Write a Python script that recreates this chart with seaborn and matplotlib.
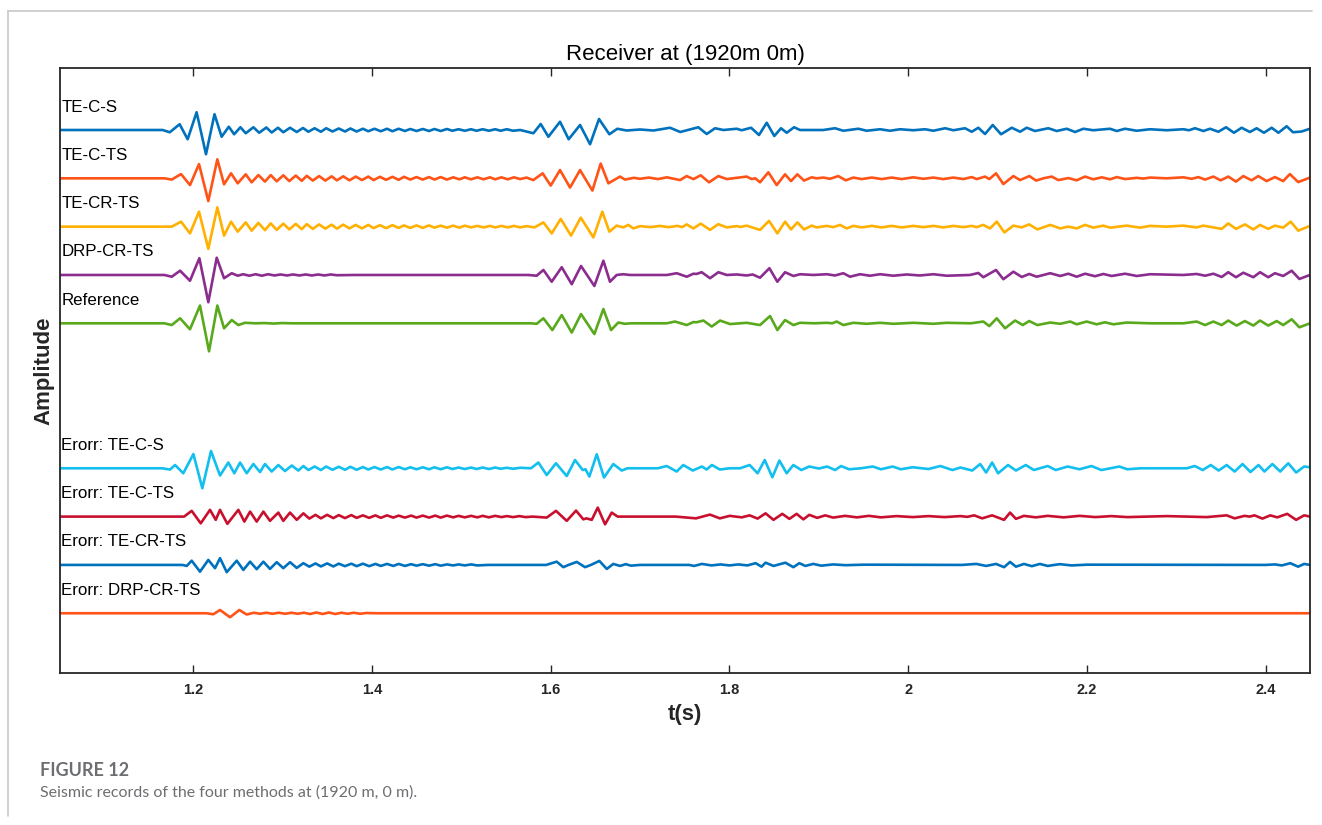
import matplotlib
matplotlib.use("Agg")
import matplotlib.pyplot as plt
from matplotlib.lines import Line2D
import pandas as pd
import seaborn as sns

# Extrema of each seismic record: (time in s, normalised amplitude)
te_c_s = [
    (1.051, 0.00), (1.166, 0.00), (1.174, -0.09), (1.185, 0.23), (1.194, -0.37),
    (1.204, 0.71), (1.2145, -0.97), (1.224, 0.63), (1.232, -0.27), (1.240, 0.13),
    (1.246, -0.17), (1.253, 0.11), (1.259, -0.13), (1.2675, 0.11), (1.274, -0.11),
    (1.282, 0.10), (1.288, -0.10), (1.295, 0.09), (1.301, -0.09), (1.3085, 0.09),
    (1.316, -0.08), (1.323, 0.08), (1.329, -0.07), (1.336, 0.07), (1.343, -0.07),
    (1.349, 0.07), (1.356, -0.06), (1.363, 0.06), (1.370, -0.06), (1.376, 0.06),
    (1.383, -0.06), (1.390, 0.05), (1.396, -0.05), (1.403, 0.05), (1.410, -0.05),
    (1.417, 0.05), (1.423, -0.05), (1.430, 0.05), (1.437, -0.04), (1.443, 0.04),
    (1.450, -0.04), (1.457, 0.04), (1.464, -0.04), (1.470, 0.04), (1.477, -0.04),
    (1.484, 0.04), (1.490, -0.03), (1.497, 0.03), (1.504, -0.03), (1.511, 0.03),
    (1.517, -0.03), (1.524, 0.03), (1.531, -0.03), (1.538, 0.03), (1.544, -0.03),
    (1.551, 0.03), (1.558, -0.03), (1.566, 0.00), (1.5807, -0.13), (1.5889, 0.24),
    (1.5975, -0.27), (1.6105, 0.33), (1.6202, -0.37), (1.6329, 0.20), (1.6441, -0.57),
    (1.6541, 0.44), (1.6657, -0.17), (1.6746, 0.05), (1.685, -0.02), (1.700, 0.02),
    (1.715, -0.02), (1.7336, 0.09), (1.745, -0.08), (1.7652, 0.11), (1.7746, -0.16),
    (1.7839, 0.07), (1.7932, 0.00), (1.8081, 0.05), (1.8137, -0.01), (1.8242, 0.09),
    (1.8331, -0.20), (1.8417, 0.29), (1.8502, -0.24), (1.8577, 0.07), (1.8641, -0.11),
    (1.8723, 0.11), (1.879, 0.00), (1.905, 0.00), (1.9181, 0.07), (1.9274, -0.03),
    (1.9442, 0.05), (1.9536, -0.03), (1.9685, 0.03), (1.9796, -0.03), (1.9908, 0.03),
    (2.0057, -0.01), (2.0188, 0.03), (2.0281, -0.03), (2.0412, 0.07), (2.0505, -0.01),
    (2.0635, 0.07), (2.071, -0.07), (2.0784, 0.09), (2.0859, -0.16), (2.0945, 0.20),
    (2.1038, -0.17), (2.1158, 0.09), (2.1251, -0.07), (2.1325, 0.09), (2.1418, -0.04),
    (2.1567, 0.07), (2.1661, -0.04), (2.1773, 0.05), (2.1866, -0.08), (2.1959, 0.05),
    (2.207, -0.01), (2.2257, 0.05), (2.2332, -0.04), (2.2425, 0.05), (2.2556, -0.03),
    (2.2705, 0.03), (2.2891, -0.01), (2.3077, 0.03), (2.314, -0.01), (2.3208, 0.07),
    (2.3301, -0.04), (2.3376, 0.05), (2.3469, -0.07), (2.3555, 0.11), (2.3643, -0.11),
    (2.3729, 0.09), (2.3822, -0.08), (2.3897, 0.07), (2.3979, -0.11), (2.4065, 0.09),
    (2.4141, -0.11), (2.4233, 0.15), (2.4304, -0.09), (2.440, -0.06), (2.4494, 0.05),
]

te_c_ts = [
    (1.051, 0.00), (1.168, 0.00), (1.1762, -0.05), (1.1866, 0.17), (1.1966, -0.27),
    (1.2067, 0.57), (1.2171, -0.91), (1.2272, 0.76), (1.2347, -0.24), (1.2425, 0.20),
    (1.250, -0.20), (1.2589, 0.16), (1.2656, -0.16), (1.2731, 0.13), (1.2805, -0.13),
    (1.2869, 0.13), (1.2936, -0.12), (1.301, 0.12), (1.3077, -0.11), (1.3149, 0.11),
    (1.3216, -0.10), (1.3272, 0.10), (1.334, -0.09), (1.341, 0.09), (1.348, -0.09),
    (1.355, 0.08), (1.361, -0.08), (1.368, 0.08), (1.375, -0.08), (1.382, 0.07),
    (1.389, -0.07), (1.396, 0.07), (1.402, -0.07), (1.409, 0.06), (1.416, -0.06),
    (1.423, 0.06), (1.430, -0.06), (1.436, 0.06), (1.443, -0.05), (1.450, 0.05),
    (1.457, -0.05), (1.464, 0.05), (1.470, -0.05), (1.477, 0.05), (1.484, -0.05),
    (1.491, 0.04), (1.498, -0.04), (1.504, 0.04), (1.511, -0.04), (1.518, 0.04),
    (1.525, -0.04), (1.532, 0.04), (1.538, -0.04), (1.545, 0.04), (1.552, -0.04),
    (1.559, 0.04), (1.566, -0.03), (1.573, 0.03), (1.5806, -0.07), (1.5911, 0.20),
    (1.6001, -0.29), (1.6105, 0.33), (1.6217, -0.37), (1.6329, 0.33), (1.6467, -0.49),
    (1.656, 0.59), (1.6646, -0.20), (1.6776, 0.07), (1.6832, -0.05), (1.693, 0.02),
    (1.700, -0.02), (1.710, 0.03), (1.720, -0.03), (1.730, 0.04), (1.7448, -0.07),
    (1.7522, 0.09), (1.7597, -0.03), (1.7679, 0.12), (1.7772, -0.16), (1.7876, 0.09),
    (1.797, -0.03), (1.8193, 0.07), (1.8249, -0.03), (1.829, 0.00), (1.8342, -0.16),
    (1.8435, 0.24), (1.8529, -0.27), (1.8622, 0.16), (1.8689, -0.11), (1.876, 0.16),
    (1.8834, -0.09), (1.892, 0.04), (1.8976, 0.00), (1.9051, 0.03), (1.9125, -0.02),
    (1.9218, 0.09), (1.9301, -0.08), (1.9386, 0.03), (1.948, -0.03), (1.9592, 0.03),
    (1.9703, -0.03), (1.9815, 0.03), (1.9927, -0.03), (2.0057, 0.04), (2.0169, -0.02),
    (2.0281, 0.03), (2.0393, -0.03), (2.0505, 0.03), (2.0617, -0.03), (2.071, 0.05),
    (2.0766, -0.03), (2.0859, 0.07), (2.0907, -0.03), (2.0982, 0.20), (2.1064, -0.23),
    (2.1176, 0.09), (2.1251, -0.07), (2.1355, 0.09), (2.143, -0.09), (2.1512, 0.00),
    (2.1605, 0.07), (2.1679, -0.07), (2.1791, 0.01), (2.1884, -0.08), (2.1978, 0.07),
    (2.207, -0.04), (2.2165, 0.04), (2.2257, -0.04), (2.2332, 0.05), (2.2425, -0.03),
    (2.2556, 0.02), (2.263, -0.01), (2.2705, 0.03), (2.2891, 0.00), (2.3077, 0.04),
    (2.3171, -0.02), (2.3245, 0.05), (2.332, -0.05), (2.3413, 0.07), (2.3495, -0.08),
    (2.358, 0.07), (2.3666, -0.13), (2.3748, 0.09), (2.3841, -0.08), (2.3915, 0.09),
    (2.4009, -0.11), (2.4102, 0.05), (2.4194, -0.11), (2.4269, 0.17), (2.4362, -0.15),
    (2.4494, 0.03),
]

te_cr_ts = [
    (1.051, 0.00), (1.168, 0.00), (1.1762, 0.00), (1.1866, 0.20), (1.1966, -0.27),
    (1.2067, 0.60), (1.2171, -0.89), (1.2272, 0.77), (1.2347, -0.36), (1.2425, 0.20),
    (1.250, -0.20), (1.2589, 0.17), (1.2656, -0.16), (1.2731, 0.15), (1.2805, -0.14),
    (1.2869, 0.13), (1.2936, -0.13), (1.301, 0.12), (1.3077, -0.11), (1.3149, 0.11),
    (1.3216, -0.10), (1.3272, 0.10), (1.334, -0.09), (1.341, 0.09), (1.348, -0.08),
    (1.355, 0.08), (1.361, -0.08), (1.368, 0.08), (1.375, -0.07), (1.382, 0.07),
    (1.389, -0.07), (1.396, 0.07), (1.402, -0.06), (1.409, 0.06), (1.416, -0.06),
    (1.423, 0.06), (1.430, -0.05), (1.436, 0.05), (1.443, -0.05), (1.450, 0.05),
    (1.457, -0.05), (1.464, 0.05), (1.470, -0.04), (1.477, 0.04), (1.484, -0.04),
    (1.491, 0.04), (1.498, -0.04), (1.504, 0.04), (1.511, -0.03), (1.518, 0.03),
    (1.525, -0.03), (1.532, 0.03), (1.538, -0.03), (1.545, 0.03), (1.552, -0.03),
    (1.559, 0.03), (1.566, -0.03), (1.573, 0.02), (1.582, -0.03), (1.5919, 0.17),
    (1.6012, -0.27), (1.6113, 0.31), (1.6228, -0.36), (1.6337, 0.36), (1.6478, -0.43),
    (1.6578, 0.60), (1.6657, -0.20), (1.6739, 0.04), (1.6813, -0.03), (1.6869, 0.07),
    (1.6925, -0.07), (1.700, 0.02), (1.712, -0.02), (1.722, 0.03), (1.732, -0.02),
    (1.742, 0.03), (1.747, -0.02), (1.7522, 0.09), (1.7597, -0.07), (1.7679, 0.12),
    (1.7783, -0.13), (1.7876, 0.10), (1.797, -0.03), (1.8081, 0.02), (1.8125, -0.01),
    (1.8193, 0.04), (1.8342, -0.13), (1.8443, 0.23), (1.8536, -0.27), (1.8622, 0.20),
    (1.8689, -0.11), (1.876, 0.17), (1.8834, -0.11), (1.892, 0.04), (1.8976, -0.03),
    (1.9089, 0.03), (1.9162, -0.02), (1.9237, 0.07), (1.9312, -0.07), (1.9386, 0.03),
    (1.948, -0.03), (1.9592, 0.03), (1.9703, -0.03), (1.9815, 0.03), (1.9927, -0.03),
    (2.0057, 0.03), (2.0169, -0.02), (2.0281, 0.03), (2.0393, -0.03), (2.0505, 0.03),
    (2.0617, -0.02), (2.071, 0.03), (2.0766, -0.02), (2.084, 0.07), (2.0915, -0.07),
    (2.099, 0.20), (2.1075, -0.23), (2.1176, 0.04), (2.127, -0.03), (2.1353, 0.09),
    (2.1444, -0.11), (2.1588, 0.07), (2.170, -0.07), (2.1791, 0.00), (2.1884, -0.07),
    (2.1978, 0.07), (2.207, -0.04), (2.2182, 0.04), (2.2257, -0.04), (2.2443, 0.04),
    (2.2593, -0.04), (2.2705, 0.03), (2.2891, 0.00), (2.3077, 0.04), (2.3226, -0.03),
    (2.3301, 0.04), (2.3506, -0.09), (2.358, 0.13), (2.3666, -0.09), (2.3766, 0.09),
    (2.386, -0.11), (2.3935, 0.07), (2.4027, -0.09), (2.4102, 0.04), (2.4194, -0.04),
    (2.4278, 0.20), (2.4362, -0.16), (2.4494, 0.03),
]

drp_cr_ts = [
    (1.051, 0.00), (1.168, 0.00), (1.1762, -0.07), (1.1855, 0.17), (1.1966, -0.23),
    (1.2071, 0.67), (1.2171, -1.09), (1.2265, 0.69), (1.2347, -0.13), (1.2433, 0.07),
    (1.250, -0.03), (1.256, 0.03), (1.263, -0.03), (1.270, 0.03), (1.277, -0.03),
    (1.284, 0.03), (1.291, -0.02), (1.298, 0.02), (1.305, -0.02), (1.312, 0.02),
    (1.319, -0.02), (1.326, 0.02), (1.333, -0.02), (1.340, 0.02), (1.347, -0.02),
    (1.354, 0.02), (1.361, -0.01), (1.380, 0.00), (1.575, 0.00), (1.5844, -0.03),
    (1.5919, 0.20), (1.6012, -0.27), (1.6124, 0.31), (1.6236, -0.37), (1.634, 0.36),
    (1.6489, -0.44), (1.659, 0.57), (1.6664, -0.27), (1.6739, 0.00), (1.6813, 0.03),
    (1.6887, 0.00), (1.730, 0.00), (1.7411, 0.07), (1.7522, -0.07), (1.7597, 0.05),
    (1.763, 0.04), (1.769, 0.11), (1.7783, -0.13), (1.7876, 0.11), (1.797, 0.00),
    (1.8081, 0.02), (1.8193, -0.02), (1.826, 0.02), (1.8342, -0.11), (1.8447, 0.27),
    (1.8536, -0.27), (1.8622, 0.11), (1.8715, -0.04), (1.879, 0.03), (1.8939, 0.00),
    (1.9089, 0.03), (1.9181, -0.02), (1.9274, 0.07), (1.9349, -0.07), (1.9461, 0.03),
    (1.9573, -0.03), (1.9685, 0.03), (1.9833, -0.03), (1.9982, 0.02), (2.0131, -0.02),
    (2.0281, 0.03), (2.043, -0.03), (2.0691, 0.00), (2.0784, 0.08), (2.084, -0.09),
    (2.0982, 0.20), (2.1064, -0.17), (2.1176, 0.13), (2.127, -0.08), (2.1353, 0.04),
    (2.1437, -0.07), (2.1588, 0.07), (2.170, -0.04), (2.1791, 0.05), (2.1884, -0.07),
    (2.1978, 0.05), (2.2089, -0.05), (2.2182, 0.04), (2.2276, -0.04), (2.2425, 0.05),
    (2.2556, -0.04), (2.2705, 0.03), (2.3077, 0.00), (2.3226, 0.04), (2.332, -0.03),
    (2.3413, 0.05), (2.3506, -0.08), (2.358, 0.11), (2.3666, -0.09), (2.3748, 0.09),
    (2.386, -0.09), (2.3935, 0.11), (2.4027, -0.09), (2.4102, 0.07), (2.4194, -0.04),
    (2.4289, 0.17), (2.4375, -0.16), (2.4494, 0.00),
]

reference = [
    (1.051, 0.00), (1.168, 0.00), (1.1762, -0.07), (1.1855, 0.20), (1.1966, -0.24),
    (1.2078, 0.71), (1.2179, -1.12), (1.2272, 0.71), (1.2347, -0.20), (1.2433, 0.13),
    (1.2507, -0.07), (1.258, 0.02), (1.270, 0.00), (1.280, 0.01), (1.290, -0.01),
    (1.300, 0.01), (1.310, 0.00), (1.578, 0.00), (1.5844, -0.02), (1.5919, 0.20),
    (1.6019, -0.27), (1.6124, 0.33), (1.6236, -0.37), (1.634, 0.37), (1.6489, -0.43),
    (1.659, 0.57), (1.6676, -0.27), (1.6757, 0.03), (1.6832, -0.02), (1.690, 0.00),
    (1.730, 0.00), (1.7391, 0.07), (1.7522, -0.07), (1.7597, 0.05), (1.763, 0.04),
    (1.7709, 0.11), (1.7802, -0.13), (1.7895, 0.11), (1.8007, -0.03), (1.8193, 0.02),
    (1.8342, -0.07), (1.8454, 0.29), (1.8536, -0.27), (1.8622, 0.13), (1.8715, -0.07),
    (1.879, 0.02), (1.895, 0.00), (1.9089, 0.02), (1.915, 0.00), (1.920, 0.07),
    (1.9274, -0.07), (1.9386, 0.02), (1.9536, -0.02), (1.9685, 0.02), (1.9833, -0.02),
    (2.0057, 0.02), (2.0281, -0.02), (2.043, 0.02), (2.070, 0.00), (2.084, 0.07),
    (2.0907, -0.11), (2.099, 0.20), (2.1083, -0.20), (2.1195, 0.11), (2.1281, -0.07),
    (2.1353, 0.09), (2.1444, -0.07), (2.1588, 0.03), (2.170, -0.02), (2.1812, 0.07),
    (2.1884, -0.04), (2.1996, 0.07), (2.2107, -0.04), (2.2201, 0.04), (2.2294, -0.04),
    (2.2443, 0.03), (2.2705, 0.00), (2.3077, 0.00), (2.3226, 0.07), (2.332, -0.07),
    (2.3413, 0.07), (2.3506, -0.07), (2.358, 0.11), (2.3673, -0.09), (2.3766, 0.09),
    (2.386, -0.09), (2.3935, 0.11), (2.4027, -0.09), (2.4121, 0.09), (2.4194, -0.07),
    (2.4289, 0.16), (2.4375, -0.16), (2.4494, 0.00),
]

err_te_c_s = [
    (1.051, 0.00), (1.165, 0.00), (1.1743, -0.05), (1.1799, 0.13), (1.1891, -0.20),
    (1.2004, 0.57), (1.2104, -0.80), (1.2201, 0.69), (1.2302, -0.29), (1.2395, 0.23),
    (1.2462, -0.20), (1.2526, 0.23), (1.260, -0.20), (1.2675, 0.17), (1.2749, -0.15),
    (1.2805, 0.17), (1.288, -0.13), (1.2954, 0.13), (1.3029, -0.11), (1.3104, 0.11),
    (1.3178, -0.09), (1.3234, 0.09), (1.329, -0.07), (1.336, 0.07), (1.343, -0.07),
    (1.349, 0.07), (1.356, -0.06), (1.363, 0.06), (1.370, -0.06), (1.376, 0.06),
    (1.383, -0.06), (1.390, 0.05), (1.396, -0.05), (1.403, 0.05), (1.410, -0.05),
    (1.417, 0.05), (1.423, -0.05), (1.430, 0.05), (1.437, -0.04), (1.443, 0.04),
    (1.450, -0.04), (1.457, 0.04), (1.464, -0.04), (1.470, 0.04), (1.477, -0.04),
    (1.484, 0.04), (1.490, -0.03), (1.497, 0.03), (1.504, -0.03), (1.511, 0.03),
    (1.517, -0.03), (1.524, 0.03), (1.531, -0.03), (1.538, 0.03), (1.544, -0.02),
    (1.551, 0.02), (1.558, -0.02), (1.566, 0.02), (1.578, 0.00), (1.5863, 0.23),
    (1.5956, -0.27), (1.606, 0.20), (1.618, -0.31), (1.6273, 0.33), (1.6359, -0.07),
    (1.639, -0.04), (1.6433, -0.33), (1.6516, 0.56), (1.6597, -0.37), (1.6701, 0.17),
    (1.6795, -0.09), (1.686, 0.00), (1.720, 0.00), (1.7298, 0.09), (1.741, -0.13),
    (1.7484, 0.13), (1.759, -0.09), (1.7692, 0.07), (1.7745, -0.05), (1.7804, 0.13),
    (1.7893, -0.05), (1.800, 0.00), (1.812, 0.00), (1.8226, 0.13), (1.8315, -0.20),
    (1.8395, 0.33), (1.848, -0.36), (1.8559, 0.31), (1.864, -0.20), (1.8715, 0.13),
    (1.8804, -0.07), (1.8893, 0.07), (1.900, -0.01), (1.9093, 0.07), (1.9182, -0.07),
    (1.9248, 0.09), (1.9338, -0.04), (1.947, 0.00), (1.9604, 0.07), (1.9694, -0.04),
    (1.9827, 0.07), (1.9915, -0.04), (2.0049, 0.04), (2.0227, -0.03), (2.036, 0.09),
    (2.0494, -0.07), (2.0583, 0.03), (2.0716, -0.09), (2.0805, 0.17), (2.0871, -0.17),
    (2.0938, 0.23), (2.1005, -0.20), (2.1116, 0.13), (2.1205, -0.09), (2.1315, 0.13),
    (2.1405, -0.07), (2.156, 0.09), (2.165, -0.07), (2.1783, 0.07), (2.1916, -0.04),
    (2.2049, 0.09), (2.2161, -0.07), (2.2361, 0.07), (2.245, -0.04), (2.260, 0.00),
    (2.3116, 0.00), (2.3205, 0.09), (2.3294, -0.07), (2.3384, 0.13), (2.3472, -0.09),
    (2.3562, 0.13), (2.3651, -0.13), (2.374, 0.17), (2.3828, -0.15), (2.3918, 0.13),
    (2.3984, -0.13), (2.4073, 0.17), (2.4161, -0.13), (2.4251, 0.20), (2.4339, -0.17),
    (2.4428, 0.07), (2.4494, 0.04),
]

err_te_c_ts = [
    (1.051, 0.00), (1.190, 0.00), (1.1985, 0.23), (1.2086, -0.27), (1.219, 0.27),
    (1.2254, -0.13), (1.2302, 0.27), (1.2384, -0.29), (1.2507, 0.27), (1.2574, -0.20),
    (1.2638, 0.20), (1.2712, -0.20), (1.2787, 0.20), (1.2861, -0.17), (1.2954, 0.16),
    (1.301, -0.17), (1.3085, 0.16), (1.316, -0.13), (1.3234, 0.13), (1.3301, -0.08),
    (1.337, 0.07), (1.343, -0.07), (1.350, 0.07), (1.357, -0.06), (1.363, 0.06),
    (1.370, -0.06), (1.377, 0.06), (1.383, -0.05), (1.390, 0.05), (1.397, -0.05),
    (1.404, 0.05), (1.410, -0.05), (1.417, 0.05), (1.424, -0.04), (1.430, 0.04),
    (1.437, -0.04), (1.444, 0.04), (1.450, -0.04), (1.457, 0.04), (1.464, -0.04),
    (1.471, 0.04), (1.477, -0.04), (1.484, 0.04), (1.491, -0.03), (1.497, 0.03),
    (1.504, -0.03), (1.511, 0.03), (1.518, -0.03), (1.524, 0.03), (1.531, -0.03),
    (1.538, 0.03), (1.545, -0.02), (1.551, 0.02), (1.558, -0.02), (1.565, 0.02),
    (1.572, -0.02), (1.580, 0.00), (1.5956, -0.04), (1.606, 0.23), (1.618, -0.17),
    (1.6284, 0.24), (1.6366, -0.11), (1.640, -0.07), (1.646, -0.13), (1.6527, 0.36),
    (1.6609, -0.31), (1.6683, 0.16), (1.675, 0.00), (1.740, 0.00), (1.7626, -0.07),
    (1.7782, 0.08), (1.7893, -0.07), (1.8003, 0.03), (1.8138, -0.03), (1.8226, 0.05),
    (1.8315, -0.08), (1.8404, 0.13), (1.8493, -0.13), (1.8591, 0.11), (1.8671, -0.09),
    (1.8751, 0.11), (1.8827, -0.11), (1.8893, 0.07), (1.8982, -0.05), (1.9071, 0.05),
    (1.916, -0.04), (1.9293, 0.03), (1.9426, -0.03), (1.956, 0.03), (1.9694, -0.03),
    (1.9871, 0.02), (2.0049, -0.02), (2.0227, 0.02), (2.0405, -0.02), (2.0583, 0.02),
    (2.066, -0.01), (2.0738, 0.05), (2.0827, -0.07), (2.0938, 0.05), (2.1072, -0.13),
    (2.1139, 0.16), (2.1205, -0.09), (2.1294, 0.03), (2.1427, -0.03), (2.156, 0.03),
    (2.1738, -0.03), (2.1916, 0.03), (2.2094, -0.02), (2.227, 0.02), (2.245, -0.02),
    (2.2895, 0.02), (2.3339, -0.02), (2.3562, 0.05), (2.3651, -0.07), (2.3761, 0.03),
    (2.3818, 0.00), (2.3873, 0.05), (2.3962, -0.08), (2.405, 0.05), (2.4128, -0.03),
    (2.4239, 0.11), (2.4339, -0.13), (2.4428, 0.05), (2.4494, 0.00),
]

err_te_cr_ts = [
    (1.051, 0.00), (1.188, 0.00), (1.193, -0.04), (1.1985, 0.17), (1.2078, -0.27),
    (1.2171, 0.20), (1.2246, -0.13), (1.2302, 0.27), (1.2377, -0.29), (1.2489, 0.17),
    (1.2563, -0.20), (1.2638, 0.13), (1.2712, -0.17), (1.2787, 0.13), (1.2861, -0.16),
    (1.2936, 0.11), (1.301, -0.13), (1.3085, 0.11), (1.316, -0.12), (1.3234, 0.07),
    (1.3301, -0.07), (1.337, 0.06), (1.343, -0.06), (1.350, 0.06), (1.357, -0.06),
    (1.363, 0.05), (1.370, -0.05), (1.377, 0.05), (1.383, -0.05), (1.390, 0.05),
    (1.397, -0.05), (1.404, 0.04), (1.410, -0.04), (1.417, 0.04), (1.424, -0.04),
    (1.430, 0.04), (1.437, -0.04), (1.444, 0.03), (1.450, -0.03), (1.457, 0.03),
    (1.464, -0.03), (1.471, 0.03), (1.477, -0.03), (1.484, 0.02), (1.491, -0.02),
    (1.497, 0.02), (1.504, -0.02), (1.511, 0.02), (1.518, -0.02), (1.530, 0.00),
    (1.595, 0.00), (1.6068, 0.13), (1.6142, -0.09), (1.620, 0.00), (1.6292, 0.12),
    (1.6385, -0.09), (1.645, 0.00), (1.6545, 0.16), (1.6628, -0.16), (1.6701, 0.04),
    (1.6776, -0.04), (1.684, 0.03), (1.690, -0.03), (1.700, 0.00), (1.755, 0.00),
    (1.7604, -0.04), (1.7692, 0.04), (1.780, -0.02), (1.790, 0.02), (1.800, -0.02),
    (1.810, 0.02), (1.820, -0.02), (1.8293, 0.07), (1.8359, -0.07), (1.8404, 0.09),
    (1.8493, -0.04), (1.8626, 0.09), (1.8715, -0.09), (1.8782, 0.07), (1.8849, -0.04),
    (1.8937, 0.04), (1.9027, -0.03), (1.916, 0.02), (1.930, -0.01), (1.950, 0.01),
    (2.060, 0.00), (2.0761, 0.04), (2.0871, -0.04), (2.0982, 0.04), (2.1072, -0.09),
    (2.1139, 0.12), (2.1205, -0.07), (2.1294, 0.04), (2.1383, -0.05), (2.1472, 0.04),
    (2.156, -0.04), (2.1694, 0.03), (2.1828, -0.02), (2.200, 0.01), (2.400, 0.00),
    (2.410, 0.02), (2.418, -0.02), (2.4273, 0.07), (2.4361, -0.07), (2.4428, 0.04),
    (2.4494, 0.00),
]

err_drp_cr_ts = [
    (1.051, 0.00), (1.215, 0.00), (1.2227, -0.04), (1.2302, 0.13), (1.2414, -0.16),
    (1.2518, 0.13), (1.260, -0.05), (1.268, 0.02), (1.275, -0.02), (1.282, 0.02),
    (1.289, -0.02), (1.296, 0.02), (1.303, -0.02), (1.310, 0.02), (1.317, -0.02),
    (1.324, 0.02), (1.331, -0.03), (1.338, 0.03), (1.345, -0.03), (1.352, 0.03),
    (1.359, -0.03), (1.366, 0.02), (1.373, -0.02), (1.380, 0.02), (1.387, -0.02),
    (1.394, 0.01), (1.405, 0.00), (2.4494, 0.00),
]

record_names = [
    "TE-C-S", "TE-C-TS", "TE-CR-TS", "DRP-CR-TS", "Reference",
    "Erorr: TE-C-S", "Erorr: TE-C-TS", "Erorr: TE-CR-TS", "Erorr: DRP-CR-TS",
]
tick_values = [1.2, 1.4, 1.6, 1.8, 2.0, 2.2, 2.4]
tick_labels = ["1.2", "1.4", "1.6", "1.8", "2", "2.2", "2.4"]

records = [te_c_s, te_c_ts, te_cr_ts, drp_cr_ts, reference,
           err_te_c_s, err_te_c_ts, err_te_cr_ts, err_drp_cr_ts]
colors = ["#0072BD", "#FF5317", "#FFB000", "#8B2C8F", "#59A91C",
          "#12BFEF", "#C8102E", "#0072BD", "#FF5317"]
lanes = [0, 1, 2, 3, 4, 7, 8, 9, 10]
LANE_GAP = 1.933  # vertical distance between neighbouring records

sns.set_theme(style="white")
plt.rcParams["font.family"] = ["Liberation Sans", "DejaVu Sans"]

W, H = 1322, 825
fig = plt.figure(figsize=(W / 100, H / 100), dpi=100)
fig.patch.set_facecolor("white")
ax = fig.add_axes([60 / W, 152 / H, 1250 / W, 605 / H])

for lane, rec, col in zip(lanes, records, colors):
    df = pd.DataFrame(rec, columns=["t", "amp"])
    df["y"] = df["amp"] - lane * LANE_GAP
    sns.lineplot(data=df, x="t", y="y", color=col, linewidth=1.9,
                 sort=False, estimator=None, ax=ax,
                 solid_joinstyle="round", solid_capstyle="round")

for lane, name in zip(lanes, record_names):
    ax.text(1.0525, -lane * LANE_GAP + 0.92, name, ha="left", va="center",
            fontsize=12.2, color="black")

ax.set_xlim(1.0512, 2.4494)
ax.set_ylim(-21.72, 2.48)
ax.set_xticks(tick_values)
ax.set_xticklabels(tick_labels, fontsize=10.5, fontweight="bold", color="#262626")
ax.set_yticks([])
ax.tick_params(axis="x", direction="in", top=True, bottom=True, length=6,
               width=1.0, color="#262626", pad=7)
for side in ["left", "right", "top", "bottom"]:
    ax.spines[side].set_visible(True)
    ax.spines[side].set_color("#262626")
    ax.spines[side].set_linewidth(1.3)

ax.set_title("Receiver at (1920m 0m)", fontsize=16, pad=6, color="black")
ax.set_xlabel("t(s)", fontsize=16, fontweight="bold", labelpad=5, color="#262626")
ax.set_ylabel("Amplitude", fontsize=16, fontweight="bold", labelpad=4, color="#262626")

# page frame and caption
fig.add_artist(Line2D([8 / W, 1312 / W], [1 - 11 / H, 1 - 11 / H],
                      color="#c8c8c8", linewidth=1.2))
fig.add_artist(Line2D([8 / W, 8 / W], [1 - 11 / H, 1 - 816 / H],
                      color="#c8c8c8", linewidth=1.2))
fig.text(40 / W, 1 - 770 / H, "FIGURE 12", fontsize=13, fontweight="bold",
         color="#6d6e71", family=["Lato", "DejaVu Sans"], va="center", ha="left")
fig.text(40 / W, 1 - 793 / H, "Seismic records of the four methods at (1920 m, 0 m).",
         fontsize=11.5, color="#6d6e71", family=["Lato", "DejaVu Sans"],
         va="center", ha="left")

fig.savefig("out.png", dpi=100, facecolor="white")
